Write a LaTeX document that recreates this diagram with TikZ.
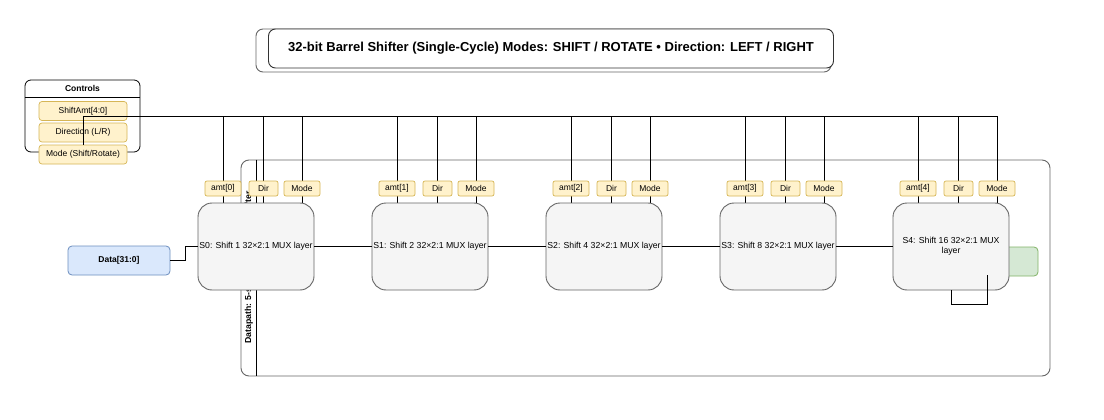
\documentclass[tikz,border=0pt]{standalone}
\usepackage{fontspec}
\setmainfont{Liberation Sans}
\usetikzlibrary{calc}
\definecolor{stagefill}{HTML}{F5F5F5}
\definecolor{stageline}{HTML}{666666}
\definecolor{badgefill}{HTML}{FFF2CC}
\definecolor{badgeline}{HTML}{D6B656}
\definecolor{bluefill}{HTML}{DAE8FC}
\definecolor{blueline}{HTML}{6C8EBF}
\definecolor{greenfill}{HTML}{D5E8D4}
\definecolor{greenline}{HTML}{82B366}
\newcommand\fsz[1]{\fontsize{#1}{#1}\selectfont}
\begin{document}
\begin{tikzpicture}[x=1pt,y=-1pt,
  stagebox/.style={draw=stageline, fill=stagefill, line width=0.9pt, rounded corners=14pt,
    minimum width=116pt, minimum height=87pt, inner sep=0pt, align=center, font=\fsz{8.7}},
  badge/.style={draw=badgeline, fill=badgefill, line width=0.7pt, rounded corners=2pt,
    minimum height=15pt, inner sep=0pt, font=\fsz{8.5}},
  citem/.style={draw=badgeline, fill=badgefill, line width=0.7pt, rounded corners=3pt,
    minimum width=88pt, minimum height=19pt, inner sep=0pt, font=\fsz{8.5}},
  wire/.style={draw=black, line width=0.8pt}]
\useasboundingbox (0,0) rectangle (1104,420);
\fill[white] (0,0) rectangle (1104,420);

% title
\node[draw=stageline, line width=0.9pt, rounded corners=7pt, minimum width=575pt, minimum height=43pt, inner sep=0pt] (tback) at (543.5,50.5) {};
\node[draw=black!80, fill=white, line width=0.9pt, rounded corners=7pt, minimum width=565pt, minimum height=39pt, inner sep=0pt, font=\fsz{13}\bfseries] (title) at (551,48.5) {32-bit Barrel Shifter (Single-Cycle) Modes: SHIFT / ROTATE • Direction: LEFT / RIGHT};

% controls
\node[draw=black, line width=0.8pt, rounded corners=6pt, minimum width=115pt, minimum height=72pt, inner sep=0pt] (ctrl) at (82.5,116) {};
\node[font=\fsz{8.5}\bfseries, inner sep=0pt] (ctrlhead) at (82.5,88.5) {Controls};
\draw[line width=0.8pt] (ctrl.west |- 0,97) -- (ctrl.east |- 0,97);

% datapath container
\node[draw=stageline, line width=0.9pt, rounded corners=8pt, minimum width=809pt, minimum height=216pt, inner sep=0pt] (dp) at (645.5,268) {};
\node[rotate=90, font=\fsz{8.7}\bfseries, inner sep=0pt] (dplabel) at (249,267.5) {Datapath: 5-stage logarithmic shifter};
\draw[wire] ($(dp.north west)+(16,0)$) -- ($(dp.south west)+(16,0)$);

% wires from controls
\node[citem] (amt) at (83,111) {ShiftAmt[4:0]};
\node[citem] (dir) at (83,132.5) {Direction (L/R)};
\coordinate (busR) at (997,116);
\foreach \L in {198,372,546,720,893}{
  \coordinate (ba) at (\L+25,116);
  \coordinate (bd) at (\L+65,116);
  \coordinate (bm) at (\L+104,116);
  \draw[wire] (ba) -- ++(0,87);
  \draw[wire] (bd) -- ++(0,87);
  \draw[wire] (bm) -- ++(0,87);
}
\node[citem] (mode) at (83,154.5) {Mode (Shift/Rotate)};
\draw[wire] (mode.north) |- (busR);

% output (behind S4)
\node[draw=greenline, fill=greenfill, line width=0.8pt, rounded corners=4pt, minimum width=48pt, minimum height=29pt, inner sep=0pt] (out) at (1014,261.5) {};

% stages
\node[stagebox] (S0) at (256,246.5) {S0: Shift 1 32×2:1 MUX layer};
\node[stagebox] (S1) at (430,246.5) {S1: Shift 2 32×2:1 MUX layer};
\node[stagebox] (S2) at (604,246.5) {S2: Shift 4 32×2:1 MUX layer};
\node[stagebox] (S3) at (778,246.5) {S3: Shift 8 32×2:1 MUX layer};
\node[stagebox] (S4) at (951,246.5) {S4: Shift 16 32×2:1 MUX\\[1pt]layer};

% badges
\foreach \i/\L in {0/198,1/372,2/546,3/720,4/893}{
  \node[badge, minimum width=36pt] (a\i) at (\L+25,188.5) {amt[\i]};
  \node[badge, minimum width=29pt] (d\i) at (\L+65.5,188.5) {Dir};
  \node[badge, minimum width=36pt] (m\i) at (\L+104,188.5) {Mode};
}

% data input
\node[draw=blueline, fill=bluefill, line width=0.8pt, rounded corners=4pt, minimum width=102pt, minimum height=29pt, inner sep=0pt, font=\fsz{8.5}\bfseries] (data) at (119,260.5) {Data[31:0]};
\draw[wire] (data.east) -- ++(15,0) |- (S0.west);

% stage chain
\draw[wire] (S0.east) -- (S1.west);
\draw[wire] (S1.east) -- (S2.west);
\draw[wire] (S2.east) -- (S3.west);
\draw[wire] (S3.east) -- (S4.west);

% loop under S4
\draw[wire] ($(S4.south east)+(-22,-15)$) -- ++(0,29) -| (S4.south);
\end{tikzpicture}
\end{document}
